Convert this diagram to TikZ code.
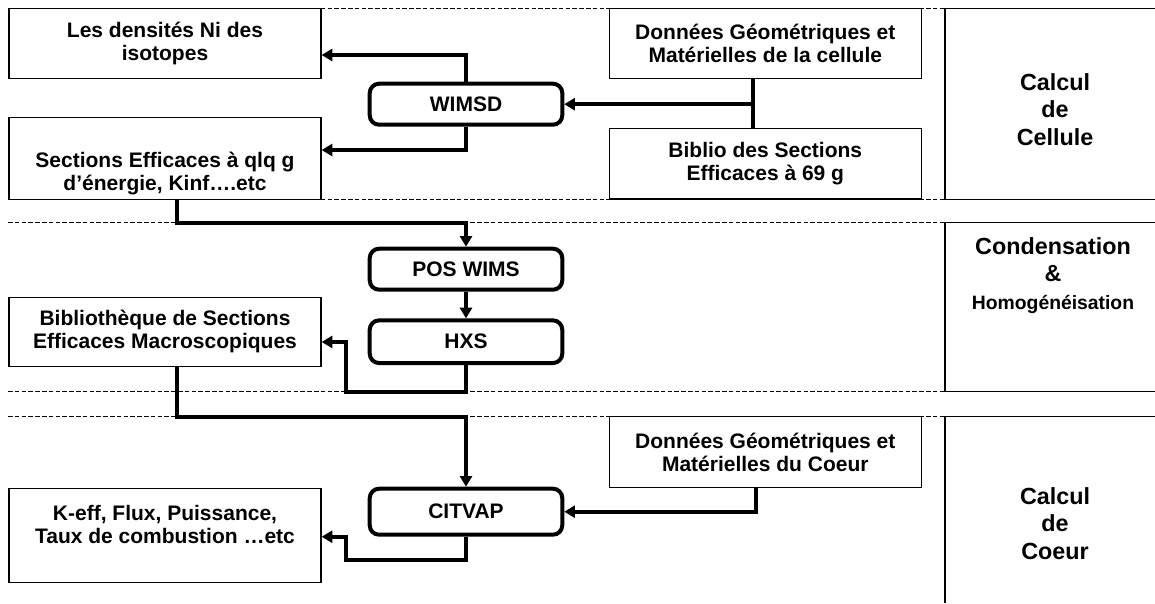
\documentclass[tikz,border=0pt]{standalone}
\usepackage{fontspec}
\setmainfont{Liberation Sans}
\usetikzlibrary{arrows.meta,positioning}

\tikzset{
  databox/.style={draw, line width=1pt, fill=white, align=center, inner sep=0pt,
    minimum width=234pt, font=\bfseries\fontsize{15.75}{17.25}\selectfont},
  codebox/.style={draw, line width=3pt, rounded corners=7pt, fill=white, inner sep=0pt,
    minimum width=144.4pt, minimum height=30.75pt, font=\bfseries\fontsize{15.75}{17.25}\selectfont},
  boxtext/.style={align=center, inner sep=0pt, font=\bfseries\fontsize{15.75}{17.25}\selectfont},
  phasetext/.style={align=center, inner sep=0pt, font=\bfseries\fontsize{17.5}{20.6}\selectfont},
  phase/.style={line width=1pt},
  sep/.style={line width=0.75pt, dash pattern=on 3.4pt off 1.7pt},
  flow/.style={line width=3pt, -{Triangle[length=8pt,width=9pt]}},
  link/.style={line width=3pt},
}

\begin{document}
\begin{tikzpicture}[x=0.75pt, y=-0.75pt]
  \useasboundingbox (0,0) rectangle (1155,603);

  % Separations between the stages
  \draw[sep] (8,8.3) -- (945,8.3);
  \draw[sep] (8,199.5) -- (945,199.5);
  \draw[sep] (8,222.7) -- (945,222.7);
  \draw[sep] (8,391.7) -- (945,391.7);
  \draw[sep] (8,416.7) -- (945,416.7);

  % Stage labels on the right
  \draw[phase] (1155,8.3) -| (945,199.5) -- (1155,199.5);
  \draw[phase] (1155,222.7) -| (945,391.7) -- (1155,391.7);
  \draw[phase] (1155,416.7) -| (945,603);
  \node[phasetext] (cell-txt) at (1055,109.2) {Calcul\\de\\Cellule};
  \node[phasetext] (cond-txt) at (1053,275.5) {Condensation\\\&\\{\fontsize{14.5}{17}\selectfont Homogénéisation}};
  \node[phasetext] (core-txt) at (1055,523.3) {Calcul\\de\\Coeur};

  % Data boxes
  \node[databox, minimum height=52.5pt] (dens) at (165,43.8) {Les densités Ni des\\isotopes};
  \node[databox, minimum height=61.7pt] (sect) at (165,158.3) {};
  \node[boxtext] (sect-txt) at (165,174) {Sections Efficaces à qlq g\\d’énergie, Kinf….etc};
  \node[databox, minimum height=51.75pt] (bibl) at (165,331.7) {Bibliothèque de Sections\\Efficaces Macroscopiques};
  \node[databox, minimum height=70.5pt] (keff) at (165,535.8) {};
  \node[boxtext] (keff-txt) at (165,524) {K-eff, Flux, Puissance,\\Taux de combustion …etc};
  \node[databox, minimum height=52.5pt] (geom) at (765.3,43.8) {Données Géométriques et\\Matérielles de la cellule};
  \node[databox, minimum height=53pt] (lib69) at (765.3,163.5) {Biblio des Sections\\Efficaces à 69 g};
  \node[databox, minimum height=53.25pt] (geomc) at (765.3,452) {Données Géométriques et\\Matérielles du Coeur};

  % Codes
  \node[codebox] (wimsd) at (466,104.2) {WIMSD};
  \node[codebox] (poswims) at (466,269.2) {POS WIMS};
  \node[codebox, minimum height=32pt] (hxs) at (466,341.7) {HXS};
  \node[codebox, minimum height=34.5pt] (citvap) at (466,511.7) {CITVAP};

  % Turning points
  \coordinate (t1) at (466,222.7);
  \coordinate (t2) at (346.3,391.7);
  \coordinate (t3) at (466,416.7);
  \coordinate (t4) at (346.3,560);
  \coordinate (j1) at ([xshift=-8.9pt]geom.south |- wimsd.east);

  % Connectors
  \draw[flow] (wimsd.north) |- ([yshift=-8.4pt]dens.east);
  \draw[flow] (wimsd.south) |- ([yshift=6.2pt]sect.east);
  \draw[link] ([xshift=-8.9pt]geom.south) -- ([xshift=-8.9pt]lib69.north);
  \draw[flow] (j1) -- (wimsd.east);
  \draw[flow] ([xshift=8.8pt]sect.south) |- (t1) -- (poswims.north);
  \draw[flow] (poswims) -- (hxs);
  \draw[flow] (hxs.south) |- (t2) |- ([yshift=-7.7pt]bibl.east);
  \draw[flow] ([xshift=8.8pt]bibl.south) |- (t3) -- (citvap.north);
  \draw[flow] ([xshift=-7.2pt]geomc.south) |- (citvap.east);
  \draw[flow] (citvap.south) |- (t4) |- ([yshift=-0.7pt]keff.east);
\end{tikzpicture}
\end{document}
